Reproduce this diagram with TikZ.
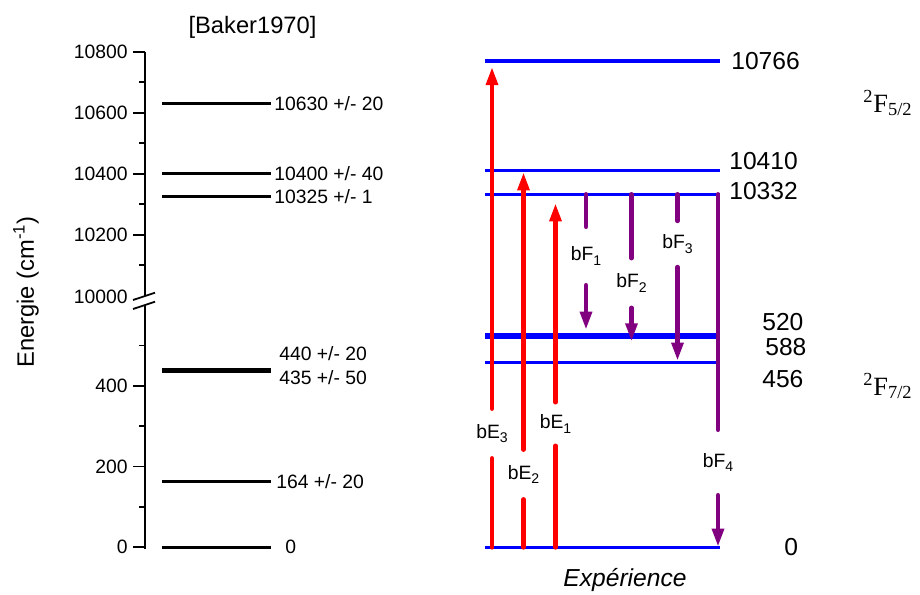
\documentclass[tikz,border=0pt]{standalone}
\usepackage{fontspec}
\setmainfont{Liberation Sans}
\newfontfamily\termfont{Liberation Serif}
\usetikzlibrary{arrows.meta,positioning}
\definecolor{levelblue}{RGB}{0,0,255}
\definecolor{absred}{RGB}{255,0,0}
\definecolor{fluopurple}{RGB}{128,0,128}
\newcommand{\lowsub}[1]{\raisebox{-0.45ex}{\fontsize{8}{9}\selectfont #1}}

\begin{document}
\begin{tikzpicture}[
    x=0.02cm, y=-0.02cm,
    axisline/.style={line width=1pt, black},
    ticklab/.style={anchor=east, inner sep=0pt, font=\fontsize{11}{13}\selectfont},
    baker/.style={line width=1.7pt, black},
    bakerlab/.style={anchor=west, inner sep=0pt, font=\fontsize{11}{13}\selectfont},
    explevel/.style={line width=2pt, levelblue},
    explab/.style={anchor=west, inner sep=0pt, font=\fontsize{14}{16}\selectfont},
    termlab/.style={anchor=base west, inner sep=0pt, font=\termfont\fontsize{15}{17}\selectfont},
    bigtitle/.style={inner sep=0pt, font=\fontsize{13.5}{15}\selectfont},
    translab/.style={inner xsep=0pt, inner ysep=0pt, font=\fontsize{11}{13}\selectfont},
    headtip/.style={-{Triangle[length=10.5pt,width=6.5pt]}},
    absarrow/.style={line width=2.7pt, absred, line cap=round},
    fluoarrow/.style={line width=2.7pt, fluopurple, line cap=round},
]
\useasboundingbox (0,0) rectangle (920,595);

% Axis with break
\draw[axisline] (145,51.7) -- (145,296);
\draw[axisline] (145,305) -- (145,549);
\draw[axisline] (133,300) -- (155,292.7);
\draw[axisline] (133,309) -- (155,301.7);
\foreach \e in {10200,10400,10600,10800} {
  \pgfmathsetmacro\yy{51.7+(10800-\e)*0.305}
  \draw[axisline] (133,\yy) -- (145,\yy);
  \node[ticklab] (t\e) at (128,\yy) {\e};
}
\foreach \e in {10100,10300,10500,10700} {
  \pgfmathsetmacro\yy{51.7+(10800-\e)*0.305}
  \draw[axisline] (139,\yy) -- (145,\yy);
}
\node[ticklab] (t10000) at (128,297) {10000};
\foreach \e in {0,200,400} {
  \pgfmathsetmacro\yy{547.3-\e*0.4035}
  \draw[axisline] (133,\yy) -- (145,\yy);
  \node[ticklab] (t\e) at (128,\yy) {\e};
}
\foreach \e in {100,300,500} {
  \pgfmathsetmacro\yy{547.3-\e*0.4035}
  \draw[axisline] (139,\yy) -- (145,\yy);
}
\node[bigtitle, rotate=90] (ylab) at (26,292) {Energie (cm\textsuperscript{-1})};
\node[bigtitle] (baker) at (252.5,27) {[Baker1970]};

% Baker levels
\draw[baker] (162,103.6) -- (271,103.6);
\draw[baker] (162,173.7) -- (271,173.7);
\draw[baker, line width=1.4pt] (162,196.6) -- (271,196.6);
\draw[baker] (162,369.8) -- (271,369.8);
\draw[baker] (162,371.8) -- (271,371.8);
\draw[baker] (162,481.1) -- (271,481.1);
\draw[baker] (162,547.3) -- (271,547.3);
\node[bakerlab] (b10630) at (274,103.6) {10630 +/- 20};
\node[bakerlab] (b10400) at (274,173.7) {10400 +/- 40};
\node[bakerlab] (b10325) at (274,196.6) {10325 +/- 1};
\node[bakerlab] (b440) at (279,354) {440 +/- 20};
\node[bakerlab] (b435) at (279,377.3) {435 +/- 50};
\node[bakerlab] (b164) at (276,481.1) {164 +/- 20};
\node[bakerlab] (b0) at (285,547.3) {0};

% Experimental levels
\draw[explevel] (485,61) -- (720,61);
\draw[explevel] (485,170.7) -- (720,170.7);
\draw[explevel] (485,194.4) -- (720,194.4);
\draw[explevel, line width=3.8pt] (485,336) -- (720,336);
\draw[explevel] (485,362.7) -- (720,362.7);
\draw[explevel] (485,547.3) -- (720,547.3);
\node[explab] (e10766) at (731,61) {10766};
\node[explab] (e10410) at (729,160.7) {10410};
\node[explab] (e10332) at (729,190.7) {10332};
\node[explab] (e520) at (762,321.7) {520};
\node[explab] (e588) at (765,347) {588};
\node[explab] (e456) at (762,379) {456};
\node[explab] (e0) at (784,547.3) {0};
\node[termlab] (f52) at (863,112) {\textsuperscript{2}F\textsubscript{5/2}};
\node[termlab] (f72) at (863,395) {\textsuperscript{2}F\textsubscript{7/2}};
\node[bigtitle, font=\itshape\fontsize{14}{16}\selectfont] (expe) at (625,580) {Expérience};

% Absorption arrows
\coordinate (a3base) at (492,547.3);   \coordinate (a3tip) at (492,66.7);
\coordinate (a2base) at (523.5,547.3); \coordinate (a2tip) at (523.5,172);
\coordinate (a1base) at (555.5,547.3); \coordinate (a1tip) at (555.5,203);
\node[translab, minimum height=28pt] (bE3) at (492,433.5) {bE\lowsub{3}};
\node[translab, minimum height=28pt] (bE2) at (523.5,474.5) {bE\lowsub{2}};
\node[translab, minimum height=24.5pt] (bE1) at (555.5,424) {bE\lowsub{1}};
\draw[absarrow] (a3base) -- (bE3.south);
\draw[absarrow, headtip] (bE3.north) -- (a3tip);
\draw[absarrow] (a2base) -- (bE2.south);
\draw[absarrow, headtip] (bE2.north) -- (a2tip);
\draw[absarrow] (a1base) -- (bE1.south);
\draw[absarrow, headtip] (bE1.north) -- (a1tip);

% Fluorescence arrows
\coordinate (f1top) at (586,194.4);   \coordinate (f1tip) at (586,330);
\coordinate (f2top) at (631.5,194.4); \coordinate (f2tip) at (631.5,341.7);
\coordinate (f3top) at (677.5,194.4); \coordinate (f3tip) at (677.5,361);
\coordinate (f4top) at (718,194.4);   \coordinate (f4tip) at (718,547);
\node[translab, minimum height=33pt] (bF1) at (586,256) {bF\lowsub{1}};
\node[translab, minimum height=28pt] (bF2) at (631.5,283) {bF\lowsub{2}};
\node[translab, minimum height=26pt] (bF3) at (677.5,244) {bF\lowsub{3}};
\node[translab, minimum height=37pt] (bF4) at (718,462.5) {bF\lowsub{4}};
\draw[fluoarrow] (f1top) -- (bF1.north);
\draw[fluoarrow, headtip] (bF1.south) -- (f1tip);
\draw[fluoarrow] (f2top) -- (bF2.north);
\draw[fluoarrow, headtip] (bF2.south) -- (f2tip);
\draw[fluoarrow] (f3top) -- (bF3.north);
\draw[fluoarrow, headtip] (bF3.south) -- (f3tip);
\draw[fluoarrow] (f4top) -- (bF4.north);
\draw[fluoarrow, headtip] (bF4.south) -- (f4tip);
\end{tikzpicture}
\end{document}
